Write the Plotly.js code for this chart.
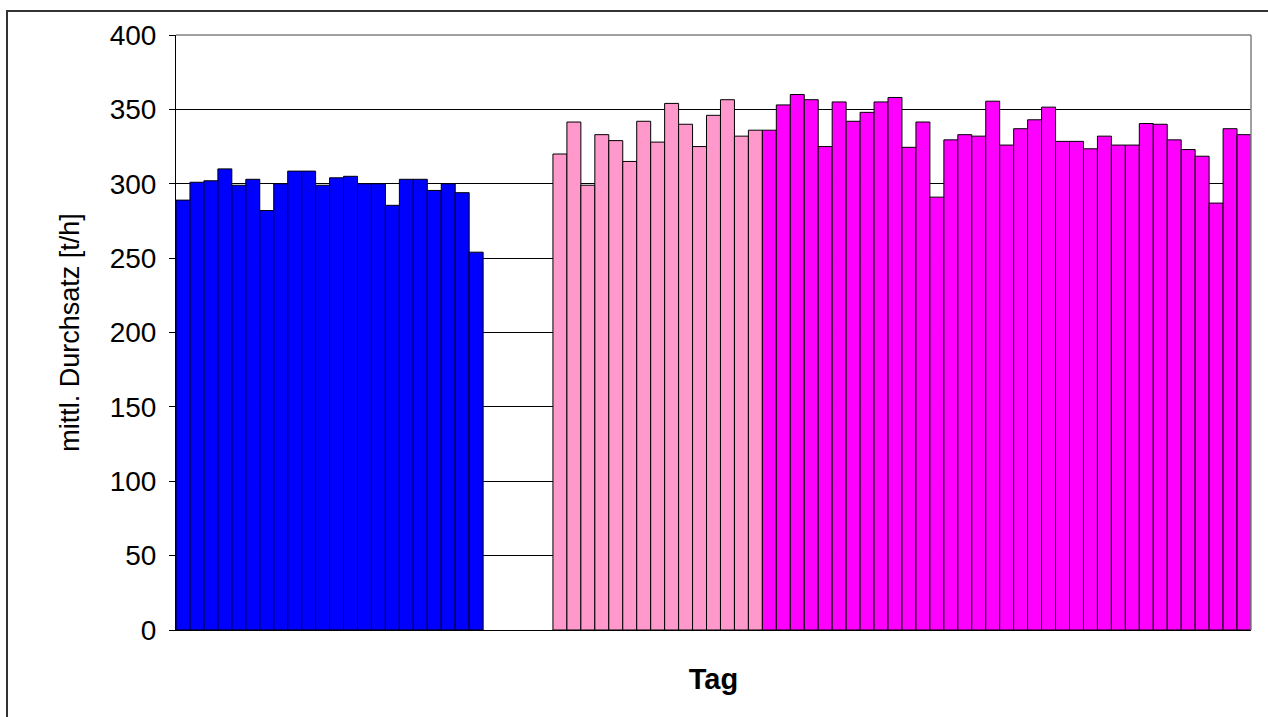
<!DOCTYPE html>
<html>
<head>
<meta charset="utf-8">
<script src="https://cdn.plot.ly/plotly-3.0.1.min.js"></script>
<style>
  html, body { margin: 0; padding: 0; background: #fff; }
  #chart { width: 1268px; height: 717px; }
</style>
</head>
<body>
<div id="chart"></div>
<script>
// Mean throughput per day [t/h]
const blueValues = [289, 301, 302, 310, 299, 303, 282, 300, 308.5, 308.5, 299, 304, 305, 300, 300, 285.5, 303, 303, 295.5, 300, 294, 254];
const gapDays = 5;
const pinkValues = [320, 341.5, 299, 333, 329, 315, 342, 328, 354, 340, 325, 346, 356.5, 332, 336];
const magentaValues = [336, 353, 360, 356.5, 325, 355, 342, 348, 355, 358, 324.5, 341.5, 291, 329.5, 333, 332, 355.5, 326,
                       337, 343, 351.5, 328.5, 328.5, 323.5, 332, 326, 326, 340.5, 340, 329.5, 323, 318.5, 287, 337, 333];
const yTicks = [0, 50, 100, 150, 200, 250, 300, 350, 400];

const blueStart = 1;
const pinkStart = blueStart + blueValues.length + gapDays;
const magentaStart = pinkStart + pinkValues.length;
const totalDays = magentaStart + magentaValues.length - 1;
const days = (start, arr) => arr.map((_, i) => start + i);

const lineStyle = { color: '#000000', width: 1 };
const traces = [
  { type: 'bar', x: days(blueStart, blueValues), y: blueValues, marker: { color: '#0000FF', line: lineStyle }, hoverinfo: 'x+y' },
  { type: 'bar', x: days(pinkStart, pinkValues), y: pinkValues, marker: { color: '#FF99CC', line: lineStyle }, hoverinfo: 'x+y' },
  { type: 'bar', x: days(magentaStart, magentaValues), y: magentaValues, marker: { color: '#FF00FF', line: lineStyle }, hoverinfo: 'x+y' }
];

const L = 176, R = 1251, T = 35, B = 630, W = 1268, H = 717;
const pw = R - L, ph = B - T;
const px = v => (v - L) / pw;
const py = v => (B - v) / ph;

const layout = {
  width: W, height: H,
  margin: { l: L, r: W - R, t: T, b: H - B, pad: 0 },
  paper_bgcolor: '#ffffff', plot_bgcolor: '#ffffff',
  barmode: 'overlay', bargap: 0,
  showlegend: false,
  font: { family: 'Liberation Sans, Arial, sans-serif', color: '#000000' },
  xaxis: {
    range: [0.5, totalDays + 0.5],
    showticklabels: false, ticks: '', showgrid: false, zeroline: false,
    showline: true, linecolor: '#000000', linewidth: 1,
    title: { text: '<b>Tag</b>', font: { size: 29, family: 'Liberation Sans, Arial, sans-serif' }, standoff: 38 },
    automargin: false, fixedrange: true
  },
  yaxis: {
    range: [0, 400], tickvals: yTicks, ticktext: yTicks.map(String),
    ticks: 'outside', ticklen: 6, tickcolor: '#000000', tickwidth: 1,
    ticklabelstandoff: 7,
    tickfont: { size: 28, family: 'Liberation Sans, Arial, sans-serif' },
    showgrid: true, gridcolor: '#000000', gridwidth: 1,
    zeroline: false, showline: true, linecolor: '#000000', linewidth: 1,
    title: { text: 'mittl. Durchsatz [t/h]', font: { size: 27, family: 'Liberation Sans, Arial, sans-serif' }, standoff: 22 },
    automargin: false, fixedrange: true
  },
  shapes: [
    { type: 'line', xref: 'paper', yref: 'paper', x0: 0, x1: 1, y0: 1, y1: 1, line: { color: '#808080', width: 1.5 }, layer: 'above' },
    { type: 'line', xref: 'paper', yref: 'paper', x0: 1, x1: 1, y0: 0, y1: 1, line: { color: '#808080', width: 1.5 }, layer: 'above' },
    { type: 'rect', xref: 'paper', yref: 'paper', x0: px(7), x1: px(1275), y0: py(11), y1: py(725), line: { color: '#333333', width: 2 }, fillcolor: 'rgba(0,0,0,0)', layer: 'above' }
  ]
};

Plotly.newPlot('chart', traces, layout, { displayModeBar: false, staticPlot: true });
</script>
</body>
</html>
